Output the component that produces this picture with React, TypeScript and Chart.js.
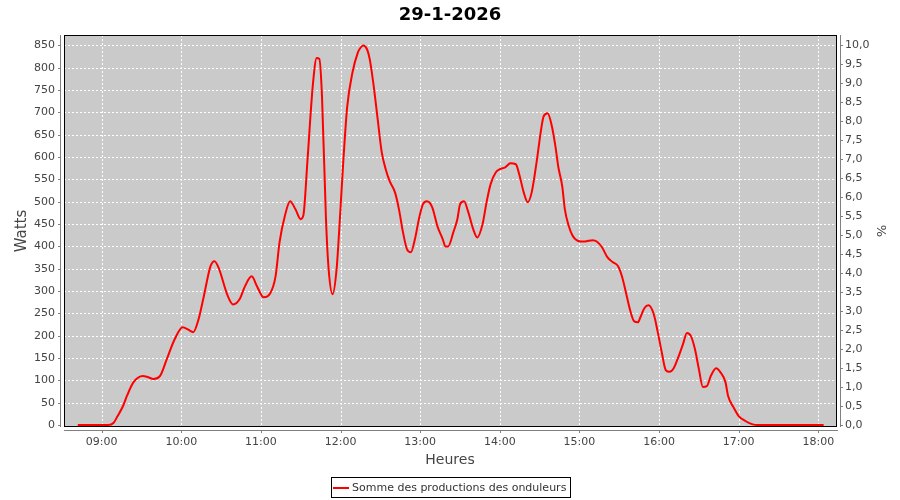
import React, { useEffect, useRef } from "react";
import { Chart, registerables } from "chart.js";

Chart.register(...registerables);

const TITLE = "29-1-2026";
const SERIES_LABEL = "Somme des productions des onduleurs";
const X_TITLE = "Heures";
const Y_LEFT_TITLE = "Watts";
const Y_RIGHT_TITLE = "%";

const HOUR_TICKS = ["09:00", "10:00", "11:00", "12:00", "13:00", "14:00", "15:00", "16:00", "17:00", "18:00"];
const WATT_TICKS = [0, 50, 100, 150, 200, 250, 300, 350, 400, 450, 500, 550, 600, 650, 700, 750, 800, 850];
const PCT_TICKS = [0, 0.5, 1, 1.5, 2, 2.5, 3, 3.5, 4, 4.5, 5, 5.5, 6, 6.5, 7, 7.5, 8, 8.5, 9, 9.5, 10];

const X_RANGE = ["08:31.6", "18:13.3"];
const WATT_RANGE = [-4.48, 873.5];
const PCT_RANGE = [-0.0527, 10.276];

const TIMES = [
  "08:42", "09:05", "09:09", "09:12", "09:16", "09:19", "09:24", "09:31", "09:35", "09:39",
  "09:44", "09:49", "09:55", "10:01", "10:05", "10:09", "10:13", "10:17", "10:22", "10:25",
  "10:28", "10:35", "10:39", "10:44", "10:48", "10:53", "10:57", "11:02", "11:07", "11:11",
  "11:14", "11:18", "11:22", "11:26", "11:30", "11:32", "11:35", "11:39", "11:42", "11:44",
  "11:46", "11:49", "11:51", "11:54", "11:57", "11:59", "12:02", "12:05", "12:09", "12:13",
  "12:15", "12:17", "12:20", "12:22", "12:25", "12:28", "12:31", "12:34", "12:37", "12:41",
  "12:44", "12:47", "12:50", "12:53", "12:56", "12:59", "13:02", "13:05", "13:09", "13:13",
  "13:17", "13:19", "13:21", "13:25", "13:28", "13:30", "13:33", "13:36", "13:40", "13:43",
  "13:47", "13:50", "13:53", "13:57", "14:00", "14:04", "14:08", "14:12", "14:15", "14:18",
  "14:21", "14:24", "14:28", "14:31", "14:33", "14:36", "14:39", "14:42", "14:44", "14:47",
  "14:49", "14:52", "14:55", "15:01", "15:04", "15:10", "15:13", "15:17", "15:21", "15:25",
  "15:29", "15:32", "15:35", "15:38", "15:41", "15:44", "15:46", "15:49", "15:52", "15:56",
  "15:59", "16:02", "16:05", "16:08", "16:11", "16:14", "16:18", "16:21", "16:24", "16:27",
  "16:30", "16:33", "16:36", "16:39", "16:43", "16:46", "16:50", "16:52", "16:56", "17:00",
  "17:05", "17:10", "17:14", "18:04",
];

const WATTS = [
  0, 0, 5, 20, 42, 65, 96, 110, 107, 103,
  110, 147, 192, 219, 214, 208, 237, 289, 356, 367,
  353, 289, 270, 282, 311, 333, 311, 286, 295, 333,
  409, 468, 501, 483, 461, 470, 590, 758, 822, 820,
  736, 461, 349, 293, 349, 438, 588, 713, 790, 834,
  845, 850, 841, 819, 758, 684, 611, 573, 546, 521,
  483, 432, 394, 387, 416, 461, 494, 501, 488, 445,
  416, 400, 400, 432, 461, 494, 501, 479, 438, 420,
  450, 499, 539, 566, 573, 577, 586, 584, 557, 521,
  499, 521, 595, 660, 691, 698, 672, 622, 579, 535,
  483, 445, 423, 411, 411, 414, 411, 398, 376, 365,
  356, 333, 297, 259, 233, 230, 242, 262, 268, 248,
  208, 163, 123, 119, 127, 148, 181, 206, 199, 170,
  125, 85, 87, 110, 127, 119, 96, 65, 40, 20,
  9, 2, 0, 0,
];

const FONT = "'DejaVu Sans', 'Liberation Sans', sans-serif";

function toMinutes(s: string): number {
  const [h, m] = s.split(":");
  return parseInt(h, 10) * 60 + parseFloat(m);
}

function fmtTime(v: number): string {
  const h = Math.floor(v / 60);
  const m = Math.round(v - h * 60);
  return String(h).padStart(2, "0") + ":" + String(m).padStart(2, "0");
}

const decorPlugin = {
  id: "decor",
  beforeDraw(chart: any) {
    const { ctx, chartArea: a } = chart;
    ctx.save();
    ctx.fillStyle = "#ffffff";
    ctx.fillRect(0, 0, chart.width, chart.height);
    ctx.fillStyle = "#cacaca";
    ctx.fillRect(a.left, a.top, a.right - a.left, a.bottom - a.top);
    ctx.restore();
  },
  beforeDatasetsDraw(chart: any) {
    const { ctx, chartArea: a } = chart;
    const xs = chart.scales.x;
    const ys = chart.scales.y;
    ctx.save();
    ctx.strokeStyle = "#ffffff";
    ctx.lineWidth = 1;
    ctx.setLineDash([2, 2]);
    HOUR_TICKS.forEach((t) => {
      const px = Math.round(xs.getPixelForValue(toMinutes(t))) + 0.5;
      ctx.beginPath();
      ctx.moveTo(px, a.top);
      ctx.lineTo(px, a.bottom);
      ctx.stroke();
    });
    WATT_TICKS.forEach((v) => {
      if (v === 0) return;
      const py = Math.round(ys.getPixelForValue(v)) + 0.5;
      ctx.beginPath();
      ctx.moveTo(a.left, py);
      ctx.lineTo(a.right, py);
      ctx.stroke();
    });
    ctx.restore();
  },
  afterDatasetsDraw(chart: any) {
    const { ctx, chartArea: a } = chart;
    const xs = chart.scales.x;
    const ys = chart.scales.y;
    const ys1 = chart.scales.y1;
    ctx.save();
    ctx.setLineDash([]);
    ctx.strokeStyle = "#000000";
    ctx.lineWidth = 1;
    ctx.strokeRect(a.left + 0.5, a.top + 0.5, a.right - a.left, a.bottom - a.top - 1);

    ctx.strokeStyle = "#808080";
    // left axis
    ctx.beginPath();
    ctx.moveTo(a.left - 3.5, a.top);
    ctx.lineTo(a.left - 3.5, a.bottom);
    ctx.stroke();
    WATT_TICKS.forEach((v) => {
      const py = Math.round(ys.getPixelForValue(v)) + 0.5;
      ctx.beginPath();
      ctx.moveTo(a.left - 6, py);
      ctx.lineTo(a.left - 3, py);
      ctx.stroke();
    });
    // right axis
    ctx.beginPath();
    ctx.moveTo(a.right + 4.5, a.top);
    ctx.lineTo(a.right + 4.5, a.bottom);
    ctx.stroke();
    PCT_TICKS.forEach((v) => {
      const py = Math.round(ys1.getPixelForValue(v)) + 0.5;
      ctx.beginPath();
      ctx.moveTo(a.right + 4, py);
      ctx.lineTo(a.right + 7, py);
      ctx.stroke();
    });
    // bottom axis
    ctx.beginPath();
    ctx.moveTo(a.left, a.bottom + 3.5);
    ctx.lineTo(a.right + 2, a.bottom + 3.5);
    ctx.stroke();
    HOUR_TICKS.forEach((t) => {
      const px = Math.round(xs.getPixelForValue(toMinutes(t))) + 0.5;
      ctx.beginPath();
      ctx.moveTo(px, a.bottom + 3);
      ctx.lineTo(px, a.bottom + 6);
      ctx.stroke();
    });
    ctx.restore();
  },
  afterDraw(chart: any) {
    const { ctx, chartArea: a } = chart;
    const cx = (a.left + a.right) / 2;
    const cy = (a.top + a.bottom) / 2;
    ctx.save();
    // title
    ctx.fillStyle = "#000000";
    ctx.font = "bold 18px " + FONT;
    ctx.textAlign = "center";
    ctx.textBaseline = "alphabetic";
    ctx.fillText(TITLE, chart.width / 2, 20);

    // axis titles
    ctx.fillStyle = "#444444";
    ctx.font = "15px " + FONT;
    ctx.textBaseline = "middle";
    ctx.save();
    ctx.translate(22, cy);
    ctx.rotate(-Math.PI / 2);
    ctx.fillText(Y_LEFT_TITLE, 0, 0);
    ctx.restore();

    ctx.save();
    ctx.font = "13px " + FONT;
    ctx.translate(880, cy);
    ctx.rotate(Math.PI / 2);
    ctx.fillText(Y_RIGHT_TITLE, 0, 0);
    ctx.restore();

    ctx.font = "14px " + FONT;
    ctx.fillText(X_TITLE, cx, 460);

    // legend
    ctx.font = "11px " + FONT;
    const tw = ctx.measureText(SERIES_LABEL).width;
    const boxW = Math.round(tw + 25);
    const boxL = Math.round(cx - boxW / 2);
    const boxT = 477;
    const boxH = 20;
    ctx.strokeStyle = "#000000";
    ctx.lineWidth = 1;
    ctx.strokeRect(boxL + 0.5, boxT + 0.5, boxW, boxH);
    ctx.strokeStyle = "#ff0000";
    ctx.lineWidth = 2;
    ctx.beginPath();
    ctx.moveTo(boxL + 2, boxT + 11);
    ctx.lineTo(boxL + 18, boxT + 11);
    ctx.stroke();
    ctx.fillStyle = "#333333";
    ctx.textAlign = "left";
    ctx.textBaseline = "middle";
    ctx.fillText(SERIES_LABEL, boxL + 21, boxT + 11);
    ctx.restore();
  },
};

export default function App() {
  const ref = useRef<HTMLCanvasElement | null>(null);

  useEffect(() => {
    if (!ref.current) return;
    const points = TIMES.map((t, i) => ({ x: toMinutes(t), y: WATTS[i] }));
    const tickFont = { family: FONT, size: 11 };
    const chart = new Chart(ref.current, {
      type: "line",
      data: {
        datasets: [
          {
            label: SERIES_LABEL,
            data: points,
            borderColor: "#ff0000",
            backgroundColor: "#ff0000",
            borderWidth: 2,
            pointRadius: 0,
            fill: false,
            cubicInterpolationMode: "monotone",
            yAxisID: "y",
          },
        ],
      },
      options: {
        animation: false,
        responsive: false,
        devicePixelRatio: 1,
        layout: { padding: { top: 35, bottom: 0, left: 0, right: 0 } },
        plugins: {
          legend: { display: false },
          title: { display: false },
          tooltip: { enabled: false },
        },
        scales: {
          x: {
            type: "linear",
            min: toMinutes(X_RANGE[0]),
            max: toMinutes(X_RANGE[1]),
            grid: { display: false, drawTicks: false },
            border: { display: false },
            afterBuildTicks: (s: any) => {
              s.ticks = HOUR_TICKS.map((t) => ({ value: toMinutes(t) }));
            },
            afterFit: (s: any) => {
              s.height = 73;
            },
            ticks: {
              autoSkip: false,
              maxRotation: 0,
              padding: 9,
              color: "#444444",
              font: tickFont,
              callback: (v: any) => fmtTime(Number(v)),
            },
          },
          y: {
            type: "linear",
            position: "left",
            min: WATT_RANGE[0],
            max: WATT_RANGE[1],
            grid: { display: false, drawTicks: false },
            border: { display: false },
            afterBuildTicks: (s: any) => {
              s.ticks = WATT_TICKS.map((v) => ({ value: v }));
            },
            afterFit: (s: any) => {
              s.width = 64;
            },
            ticks: {
              autoSkip: false,
              padding: 9,
              color: "#444444",
              font: tickFont,
              callback: (v: any) => String(v),
            },
          },
          y1: {
            type: "linear",
            position: "right",
            display: true,
            min: PCT_RANGE[0],
            max: PCT_RANGE[1],
            grid: { display: false, drawTicks: false },
            border: { display: false },
            afterBuildTicks: (s: any) => {
              s.ticks = PCT_TICKS.map((v) => ({ value: v }));
            },
            afterFit: (s: any) => {
              s.width = 64;
            },
            ticks: {
              autoSkip: false,
              padding: 9,
              color: "#444444",
              font: tickFont,
              callback: (v: any) => Number(v).toFixed(1).replace(".", ","),
            },
          },
        },
      },
      plugins: [decorPlugin],
    } as any);
    return () => chart.destroy();
  }, []);

  return (
    <div style={{ position: "fixed", left: 0, top: 0, width: 900, height: 500, background: "#fff" }}>
      <canvas ref={ref} width={900} height={500} style={{ display: "block", width: 900, height: 500 }} />
    </div>
  );
}
